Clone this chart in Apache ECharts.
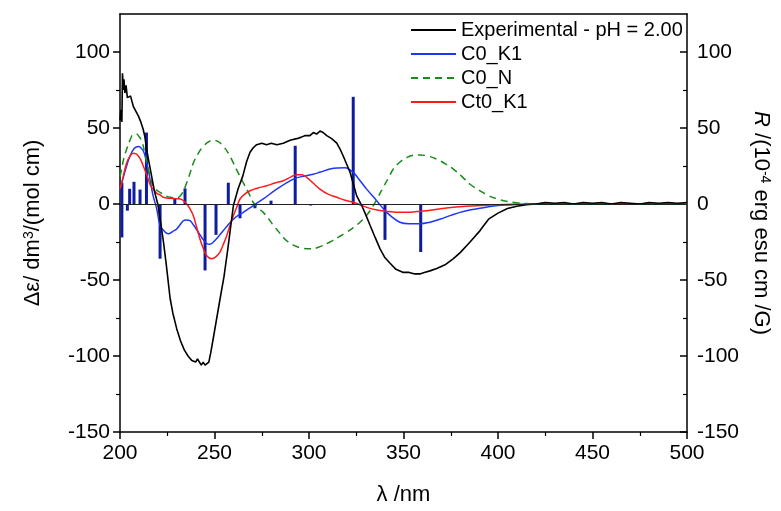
<!DOCTYPE html>
<html>
<head>
<meta charset="utf-8">
<script src="https://cdn.jsdelivr.net/npm/echarts@6/dist/echarts.min.js"></script>
<style>html,body{margin:0;padding:0;background:#fff;}#c{width:781px;height:511px;}</style>
</head>
<body>
<div id="c"></div>
<script>
// ---- data ----
const xTicks = [200, 250, 300, 350, 400, 450, 500];
const yTicks = [-150, -100, -50, 0, 50, 100];
const yMinorTicks = [-125, -75, -25, 25, 75];

const expWl = [200, 200.5, 201, 201.3, 201.8, 202.1, 202.6, 203.2, 203.9, 204.8, 205.6, 206.3, 207.1, 208, 209.7, 211, 212.3, 213.2, 214.1, 215.4, 216.7, 218.3, 220, 221.5, 223, 224.5, 226.5, 228, 230, 232, 234, 236, 237, 238, 239, 240, 241, 242, 243, 244, 245, 246, 247, 248, 249.4, 251.2, 253, 255, 257, 260, 262.5, 265, 267, 268.8, 270.5, 272.3, 275, 277.6, 280, 283, 286.4, 290, 293.5, 296, 298, 300.5, 302.3, 304, 305.8, 307.5, 309.4, 312, 314.7, 316.5, 318.1, 320, 321.7, 323.5, 325.2, 327.9, 330, 332.3, 335, 337.6, 340, 342.9, 346, 349.9, 353, 356, 358.7, 361, 364, 367.6, 372, 376.4, 380, 385.2, 390.5, 395, 400, 405, 410, 415, 420, 425, 430, 435, 440, 445, 450, 455, 460, 465, 470, 475, 480, 485, 490, 495, 500];
const expVal = [55, 62, 54, 86, 75, 82, 73, 78, 70, 70, 71, 67.7, 64, 62, 58, 54, 49, 44, 36, 27, 18.5, 8, 0, -12, -25, -40, -62, -72, -82, -90, -96, -100, -101, -103, -102, -104, -102, -103, -106, -104, -106, -105, -104, -98, -88, -75, -62, -48, -30, -1, 10, 18.5, 28, 34, 37, 39, 40, 39, 40, 39, 40, 42, 43, 44, 45, 45, 47, 46, 48, 47, 45, 43, 40, 36, 31.6, 26, 21, 13, 5.5, -1, -7, -14, -22, -29.5, -35, -39, -43, -45, -45, -46, -46, -45, -44, -42.5, -40, -36, -32, -25, -17.5, -10, -6, -3, -1.5, -0.5, 0, 1, 0.5, 1, 0, 1, 0.5, 1, 0, 1, 0.5, 0, 1, 0.5, 1, 0.5, 1];

const c0k1Wl = [200, 201, 203, 205.3, 207.5, 209.7, 211, 212.3, 213.6, 214.9, 216.2, 217.5, 219.4, 221.2, 223.5, 225.6, 228, 230, 233.5, 235, 237, 239, 241.4, 243.5, 245.9, 247.5, 249.4, 252, 254.7, 257, 260, 262.5, 265.2, 270.5, 275.8, 282.9, 291.7, 296, 302.3, 306, 311.1, 315, 319, 321, 323.4, 326, 330.5, 335.8, 341.1, 348.1, 353, 358.7, 364, 369.3, 375, 379.9, 385, 390.5, 395, 400, 405, 410, 415, 420, 430, 500];
const c0k1Val = [10, 14, 23, 31.6, 36.5, 37.8, 37, 35, 30, 23, 14, 5.5, -3, -14, -18, -19.6, -18, -16.4, -11, -10.5, -11, -14, -18.5, -22.5, -26, -26.5, -25, -21.5, -17.5, -14, -10, -7.5, -5.5, -1, 3.3, 9.8, 16.4, 18, 19.6, 21, 23, 23.7, 23.8, 23, 20.8, 17, 9.8, 2.2, -5.5, -12, -13, -13, -12, -10, -7.5, -5.5, -4, -2.8, -1.8, -1, -0.6, -0.3, -0.1, 0, 0, 0];

const c0nWl = [200, 200.9, 202, 203.5, 205.3, 207, 208.8, 210, 211.5, 213.2, 214.9, 216.2, 217.5, 219.5, 221.2, 224, 226.5, 230, 232.6, 235.3, 237, 238.8, 241.5, 244.1, 247, 249.4, 252, 254.7, 257.5, 260, 262.5, 265.2, 268, 270.5, 273, 275.8, 278.5, 281.1, 283.8, 286.4, 289, 291.7, 293.5, 296, 300.5, 305, 311.1, 316, 320, 323.5, 327, 330.5, 334, 336.5, 339.3, 342, 344.6, 348, 351.7, 355, 358.7, 363, 367.6, 372, 376.4, 381, 385.2, 390.5, 395, 400, 405, 410, 415, 420, 430, 500];
const c0nVal = [18, 23, 30, 36, 42, 45.8, 46, 44.5, 41.5, 33, 23, 16.5, 12, 9, 7.7, 5.5, 4.4, 4, 6.5, 14, 20, 27, 33.5, 38, 41, 42, 41, 38, 33, 27, 20.5, 14, 7.5, 1, -2.5, -5.5, -9.5, -14, -18, -22, -25, -27, -28, -29, -29.5, -28.5, -25, -21.5, -18.5, -15.5, -12, -7.5, -1, 4.5, 11, 17, 23, 27.5, 30.5, 32, 32.3, 31.5, 29.5, 26.5, 23, 18, 13, 8.7, 5.5, 3.2, 1.7, 0.8, 0.3, 0.1, 0, 0];

const ct0k1Wl = [200, 200.9, 203.5, 205.3, 207, 208.5, 209.7, 211, 212.3, 213.6, 214.9, 216.2, 217.5, 219.5, 221.2, 222.9, 226.5, 230, 232.5, 235.3, 237, 238.8, 240.5, 242.3, 244, 245.9, 248.5, 250.5, 252.9, 254.7, 256.5, 258.2, 260, 261.8, 263.5, 266, 268.8, 273, 277.6, 282, 286.4, 290, 293.5, 296, 298.8, 302, 305.8, 310, 314.7, 319, 323.4, 327, 330.5, 336, 341.1, 346, 351.7, 357, 362.3, 369, 376.4, 383, 390.5, 400, 410, 420, 500];
const ct0k1Val = [10, 14, 27, 31.5, 33.4, 33, 31.6, 29, 25, 21, 16.4, 12, 10, 7, 6, 4.4, 3.7, 3.5, 3, 0, -3, -7.7, -15, -23, -29, -34, -36, -35, -31.6, -26.5, -20.8, -14, -7.7, -2, 3.3, 6.5, 8.7, 10.5, 12, 13.8, 15.3, 17.5, 19.3, 19.3, 17.5, 14, 9.8, 6.5, 4.4, 2.5, 1.1, -0.5, -2.2, -4, -5, -5.4, -5.5, -5, -4.4, -3.3, -2.2, -1.5, -1, -0.5, -0.2, 0, 0];

const barWl = [201, 201, 203.9, 205.1, 207.4, 210.6, 214, 221.2, 229, 234.4, 245, 250.8, 257.3, 263.5, 271.4, 279.9, 292.7, 300.9, 323.4, 340.2, 359.1];
const barVal = [14, -22, -4.4, 10, 14.6, 9.5, 47, -36, 3.3, 10.3, -43.7, -20.3, 14, -9.4, -2.8, 2.2, 38.3, -1, 70.5, -23.6, -31.6];

const seriesNames = ['Experimental - pH = 2.00', 'C0_K1', 'C0_N', 'Ct0_K1'];

// ---- build ----
const FONT = '"Liberation Sans", Arial, Helvetica, sans-serif';
const zip = (a, b) => a.map((v, i) => [v, b[i]]);
const lineAxisStyle = { color: '#000', width: 1.5 };

const chart = echarts.init(document.getElementById('c'), null, { renderer: 'canvas' });

function yMain(pos, inside, name, nameGap, nameRotate) {
  return {
    type: 'value', position: pos, min: -150, max: 125,
    axisLine: { show: true, onZero: false, lineStyle: lineAxisStyle },
    axisTick: { show: true, inside: inside, length: 7, customValues: yTicks, lineStyle: { color: '#000', width: 1.5 } },
    axisLabel: { show: true, customValues: yTicks, fontSize: 21, color: '#000', fontFamily: FONT, margin: 10 },
    splitLine: { show: false },
    name: name, nameLocation: 'middle', nameGap: nameGap, nameRotate: nameRotate,
    nameTextStyle: {
      fontSize: 22, color: '#000', fontFamily: FONT,
      rich: {
        sup: { fontSize: 14, color: '#000', fontFamily: FONT, verticalAlign: 'top', lineHeight: 22 },
        it: { fontSize: 22, color: '#000', fontFamily: FONT, fontStyle: 'italic', lineHeight: 22 }
      }
    }
  };
}
function yMinor(pos, inside) {
  return {
    type: 'value', position: pos, min: -150, max: 125,
    axisLine: { show: false },
    axisTick: { show: true, inside: inside, length: 4, customValues: yMinorTicks, lineStyle: { color: '#000', width: 1.2 } },
    axisLabel: { show: false },
    splitLine: { show: false }
  };
}

const option = {
  animation: false,
  backgroundColor: '#fff',
  grid: { left: 120, right: 94, top: 14, bottom: 77, containLabel: false },
  legend: {
    orient: 'vertical', left: 405, top: 15,
    itemWidth: 45, itemHeight: 14, itemGap: 4,
    itemStyle: { opacity: 0 },
    textStyle: { fontSize: 20, color: '#000', fontFamily: FONT, lineHeight: 20 },
    data: seriesNames
  },
  xAxis: [
    {
      type: 'value', position: 'bottom', min: 200, max: 500, interval: 50,
      axisLine: { show: true, onZero: false, lineStyle: lineAxisStyle },
      axisTick: { show: true, length: 7, customValues: xTicks, lineStyle: { color: '#000', width: 1.5 } },
      minorTick: { show: true, splitNumber: 2, length: 4, lineStyle: { color: '#000', width: 1.2 } },
      axisLabel: { customValues: xTicks, fontSize: 21, color: '#000', fontFamily: FONT, margin: 11 },
      splitLine: { show: false }, minorSplitLine: { show: false },
      name: 'λ /nm', nameLocation: 'middle', nameGap: 52,
      nameTextStyle: { fontSize: 22, color: '#000', fontFamily: FONT }
    },
    {
      type: 'value', position: 'top', min: 200, max: 500,
      axisLine: { show: true, onZero: false, lineStyle: lineAxisStyle },
      axisTick: { show: false }, axisLabel: { show: false }, splitLine: { show: false }
    }
  ],
  yAxis: [
    yMain('left', false, 'Δε/ dm{sup|3}/(mol cm)', 76, 90),
    yMinor('left', false),
    yMain('right', true, '{it|R} /(10{sup|-4} erg esu cm /G)', 62, -90),
    yMinor('right', true)
  ],
  series: [
    {
      type: 'bar', name: 'R', xAxisIndex: 0, yAxisIndex: 2, barWidth: 3,
      itemStyle: { color: '#0f1c9e' }, data: zip(barWl, barVal), z: 2,
      markLine: {
        silent: true, symbol: 'none', label: { show: false },
        lineStyle: { color: '#222', width: 1.2, type: 'solid' },
        data: [{ yAxis: 0 }]
      }
    },
    {
      type: 'line', name: seriesNames[1], yAxisIndex: 0, symbol: 'none', smooth: 0.4,
      lineStyle: { color: '#1f35f5', width: 1.5 }, itemStyle: { color: '#1f35f5' },
      data: zip(c0k1Wl, c0k1Val), z: 3
    },
    {
      type: 'line', name: seriesNames[2], yAxisIndex: 0, symbol: 'none', smooth: 0.4,
      lineStyle: { color: '#1a8a1a', width: 1.5, type: [7, 5] }, itemStyle: { color: '#1a8a1a' },
      data: zip(c0nWl, c0nVal), z: 3
    },
    {
      type: 'line', name: seriesNames[3], yAxisIndex: 0, symbol: 'none', smooth: 0.4,
      lineStyle: { color: '#ff1a1a', width: 1.5 }, itemStyle: { color: '#ff1a1a' },
      data: zip(ct0k1Wl, ct0k1Val), z: 3
    },
    {
      type: 'line', name: seriesNames[0], yAxisIndex: 0, symbol: 'none',
      lineStyle: { color: '#000', width: 1.6 }, itemStyle: { color: '#000' },
      data: zip(expWl, expVal), z: 4
    }
  ]
};
chart.setOption(option);
</script>
</body>
</html>
